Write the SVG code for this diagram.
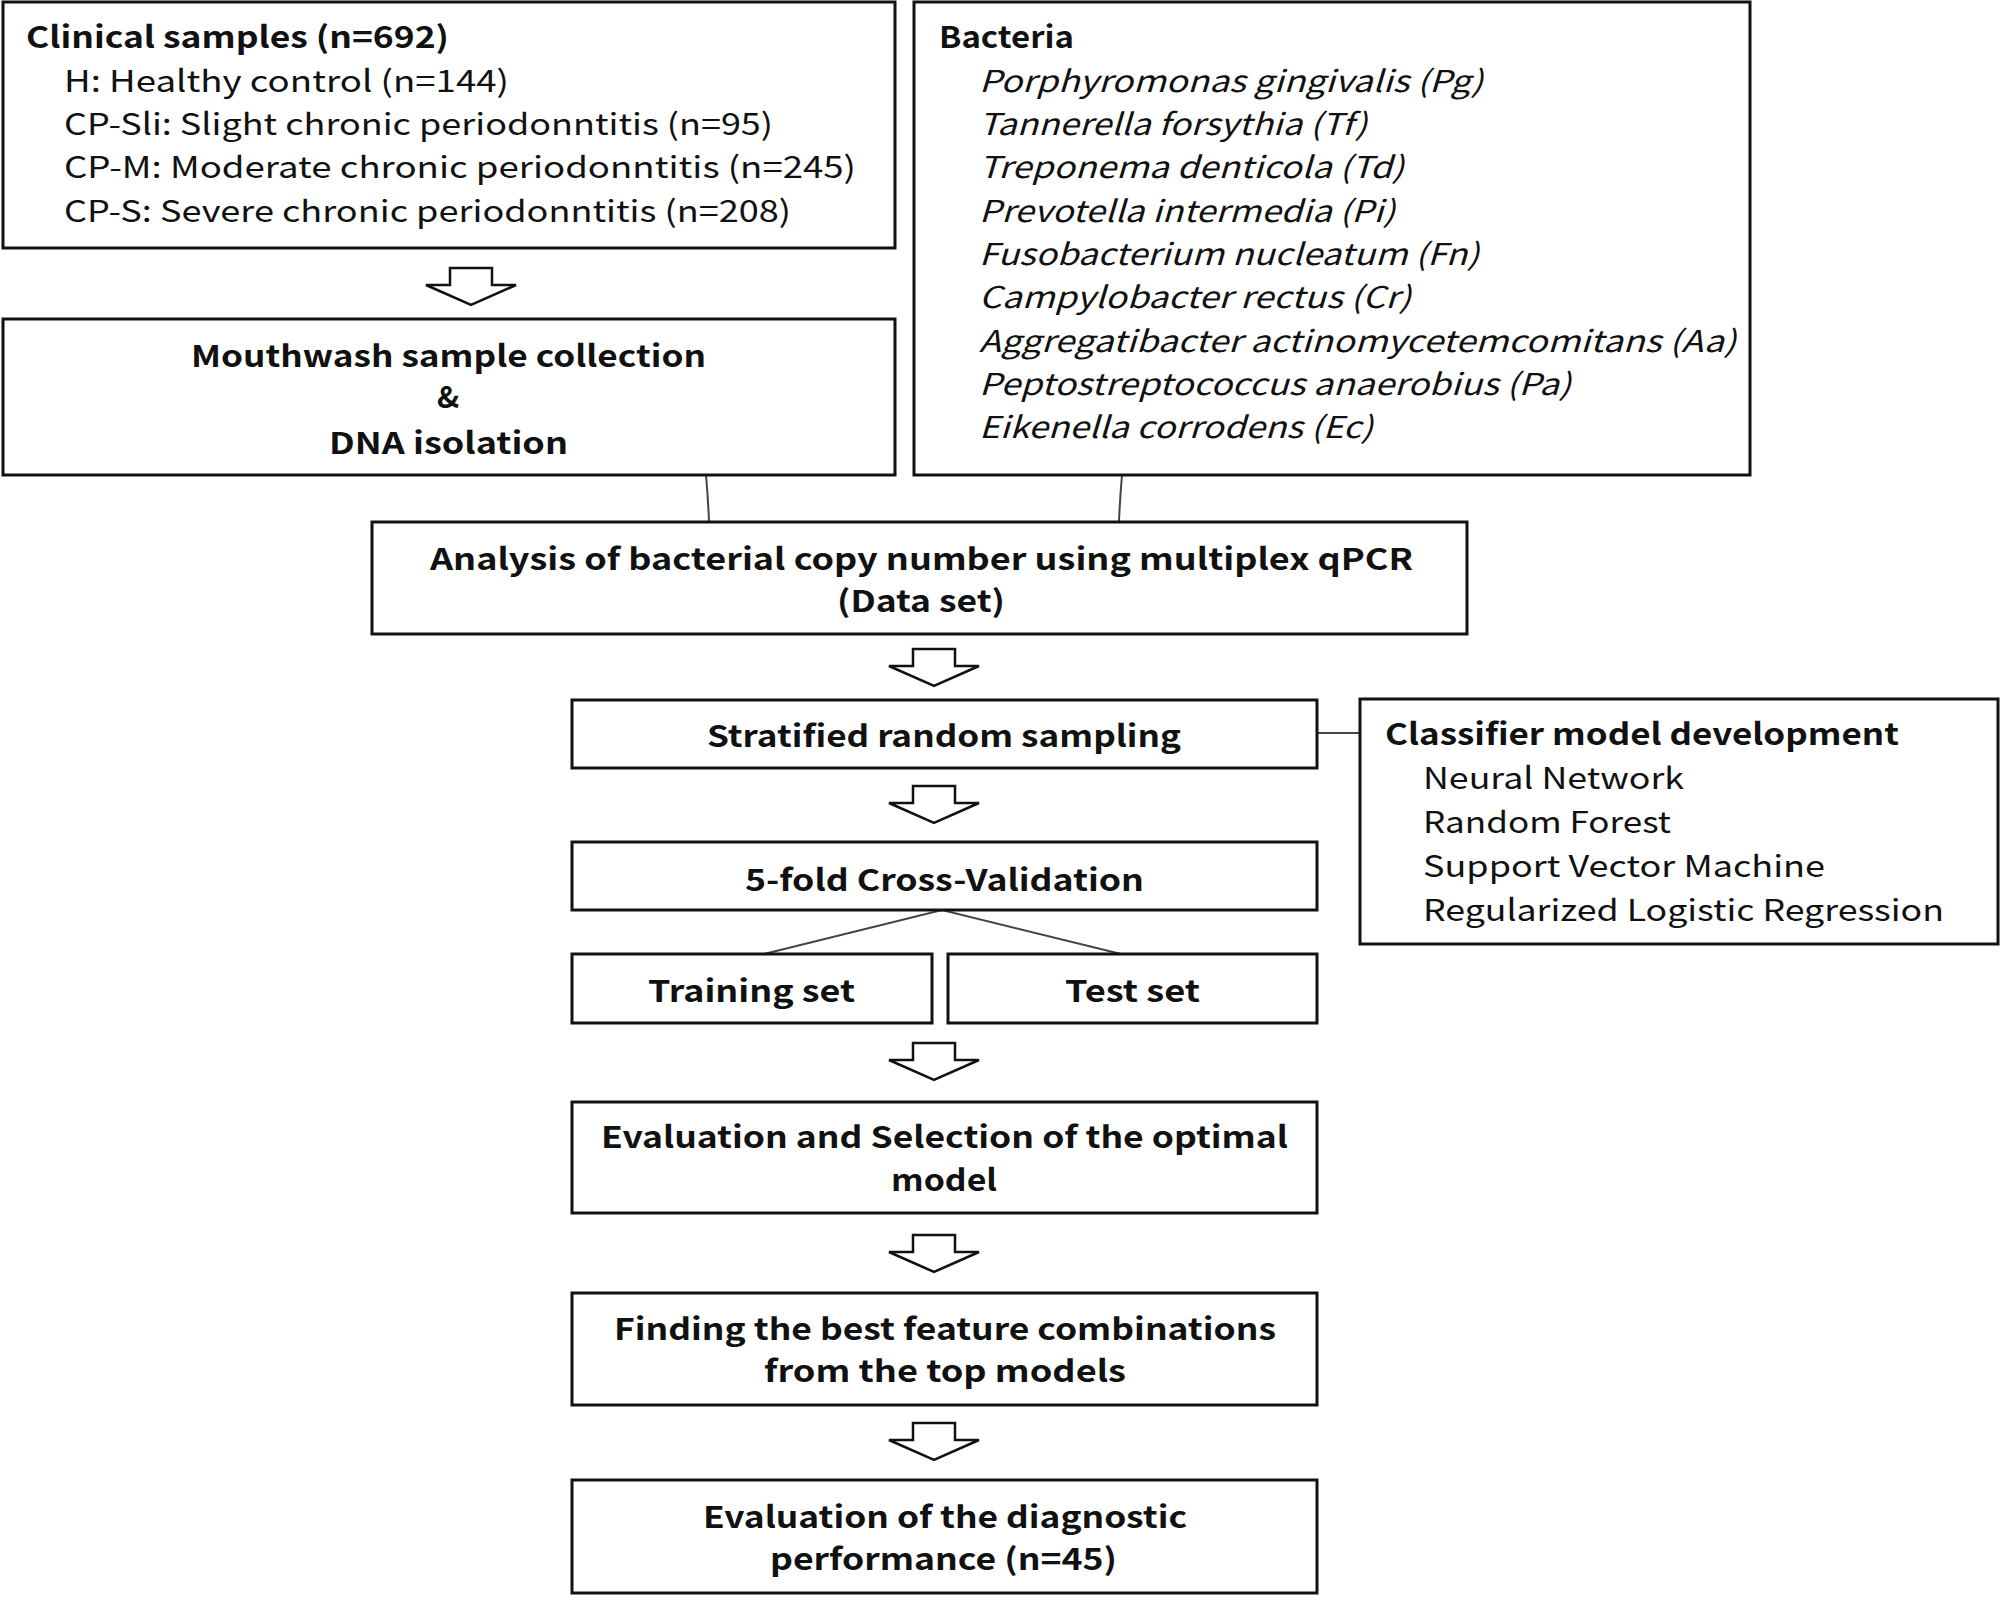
<svg xmlns="http://www.w3.org/2000/svg" width="2003" height="1602" viewBox="0 0 2003 1602">
<style>
.box{fill:#fff;stroke:#111;stroke-width:3}
.arr{fill:#fff;stroke:#111;stroke-width:2.5;stroke-linejoin:miter}
.con{fill:none;stroke:#444;stroke-width:2}
text{font-family:"Noto Sans CJK KR","Noto Sans","Open Sans",sans-serif;font-size:30px;fill:#111}
.b{font-weight:bold}
.i{font-style:italic}
.m{text-anchor:middle}
</style>
<defs>
<path id="blk" d="M-21,0 H21 V17 H45 L0,37 L-45,17 H-21 Z"/>
</defs>
<rect width="2003" height="1602" fill="#fff"/>
<g id="connectors">
<path class="con" d="M706,475 Q708,498 709,521"/>
<path class="con" d="M1122,475 Q1120,498 1119,521"/>
<path class="con" d="M1317,733 H1360"/>
<path class="con" d="M764,954 L942,910 L1121,954"/>
<use href="#blk" class="arr" x="471" y="268"/>
<use href="#blk" class="arr" x="934" y="649"/>
<use href="#blk" class="arr" x="934" y="786"/>
<use href="#blk" class="arr" x="934" y="1043"/>
<use href="#blk" class="arr" x="934" y="1235"/>
<use href="#blk" class="arr" x="934" y="1423"/>
</g>
<g id="clinical">
<rect class="box" x="3" y="2" width="892" height="246"/>
<text class="b" x="26" y="48" textLength="423" lengthAdjust="spacingAndGlyphs">Clinical samples (n=692)</text>
<text x="64" y="92" textLength="445" lengthAdjust="spacingAndGlyphs">H: Healthy control (n=144)</text>
<text x="64" y="135" textLength="709" lengthAdjust="spacingAndGlyphs">CP-Sli: Slight chronic periodonntitis (n=95)</text>
<text x="64" y="178" textLength="792" lengthAdjust="spacingAndGlyphs">CP-M: Moderate chronic periodonntitis (n=245)</text>
<text x="64" y="222" textLength="727" lengthAdjust="spacingAndGlyphs">CP-S: Severe chronic periodonntitis (n=208)</text>
</g>
<g id="bacteria">
<rect class="box" x="914" y="2" width="836" height="473"/>
<text class="b" x="939" y="48" textLength="135" lengthAdjust="spacingAndGlyphs">Bacteria</text>
<text class="i" x="979" y="92" textLength="504" lengthAdjust="spacingAndGlyphs">Porphyromonas gingivalis (Pg)</text>
<text class="i" x="979" y="135" textLength="388" lengthAdjust="spacingAndGlyphs">Tannerella forsythia (Tf)</text>
<text class="i" x="979" y="178" textLength="425" lengthAdjust="spacingAndGlyphs">Treponema denticola (Td)</text>
<text class="i" x="979" y="222" textLength="416" lengthAdjust="spacingAndGlyphs">Prevotella intermedia (Pi)</text>
<text class="i" x="979" y="265" textLength="500" lengthAdjust="spacingAndGlyphs">Fusobacterium nucleatum (Fn)</text>
<text class="i" x="979" y="308" textLength="432" lengthAdjust="spacingAndGlyphs">Campylobacter rectus (Cr)</text>
<text class="i" x="979" y="352" textLength="757" lengthAdjust="spacingAndGlyphs">Aggregatibacter actinomycetemcomitans (Aa)</text>
<text class="i" x="979" y="395" textLength="592" lengthAdjust="spacingAndGlyphs">Peptostreptococcus anaerobius (Pa)</text>
<text class="i" x="979" y="438" textLength="394" lengthAdjust="spacingAndGlyphs">Eikenella corrodens (Ec)</text>
</g>
<g id="mouthwash">
<rect class="box" x="3" y="319" width="892" height="156"/>
<text class="b" x="191" y="367" textLength="515" lengthAdjust="spacingAndGlyphs">Mouthwash sample collection</text>
<text class="b m" x="448" y="408">&amp;</text>
<text class="b" x="329" y="454" textLength="239" lengthAdjust="spacingAndGlyphs">DNA isolation</text>
</g>
<g id="analysis">
<rect class="box" x="372" y="522" width="1095" height="112"/>
<text class="b" x="430" y="570" textLength="983" lengthAdjust="spacingAndGlyphs">Analysis of bacterial copy number using multiplex qPCR</text>
<text class="b" x="837" y="612" textLength="168" lengthAdjust="spacingAndGlyphs">(Data set)</text>
</g>
<g id="stratified">
<rect class="box" x="572" y="700" width="745" height="68"/>
<text class="b" x="707" y="747" textLength="474" lengthAdjust="spacingAndGlyphs">Stratified random sampling</text>
</g>
<g id="crossval">
<rect class="box" x="572" y="842" width="745" height="68"/>
<text class="b" x="745" y="891" textLength="399" lengthAdjust="spacingAndGlyphs">5-fold Cross-Validation</text>
</g>
<g id="training">
<rect class="box" x="572" y="954" width="360" height="69"/>
<text class="b" x="648" y="1002" textLength="207" lengthAdjust="spacingAndGlyphs">Training set</text>
</g>
<g id="test">
<rect class="box" x="948" y="954" width="369" height="69"/>
<text class="b" x="1065" y="1002" textLength="135" lengthAdjust="spacingAndGlyphs">Test set</text>
</g>
<g id="evaluation">
<rect class="box" x="572" y="1102" width="745" height="111"/>
<text class="b" x="601" y="1148" textLength="687" lengthAdjust="spacingAndGlyphs">Evaluation and Selection of the optimal</text>
<text class="b" x="891" y="1191" textLength="106" lengthAdjust="spacingAndGlyphs">model</text>
</g>
<g id="finding">
<rect class="box" x="572" y="1293" width="745" height="112"/>
<text class="b" x="614" y="1340" textLength="662" lengthAdjust="spacingAndGlyphs">Finding the best feature combinations</text>
<text class="b" x="764" y="1382" textLength="362" lengthAdjust="spacingAndGlyphs">from the top models</text>
</g>
<g id="diagnostic">
<rect class="box" x="572" y="1480" width="745" height="113"/>
<text class="b" x="703" y="1528" textLength="484" lengthAdjust="spacingAndGlyphs">Evaluation of the diagnostic</text>
<text class="b" x="770" y="1570" textLength="347" lengthAdjust="spacingAndGlyphs">performance (n=45)</text>
</g>
<g id="classifier">
<rect class="box" x="1360" y="699" width="638" height="245"/>
<text class="b" x="1385" y="745" textLength="514" lengthAdjust="spacingAndGlyphs">Classifier model development</text>
<text x="1423" y="789" textLength="261" lengthAdjust="spacingAndGlyphs">Neural Network</text>
<text x="1423" y="833" textLength="248" lengthAdjust="spacingAndGlyphs">Random Forest</text>
<text x="1423" y="877" textLength="402" lengthAdjust="spacingAndGlyphs">Support Vector Machine</text>
<text x="1423" y="921" textLength="521" lengthAdjust="spacingAndGlyphs">Regularized Logistic Regression</text>
</g>
</svg>
